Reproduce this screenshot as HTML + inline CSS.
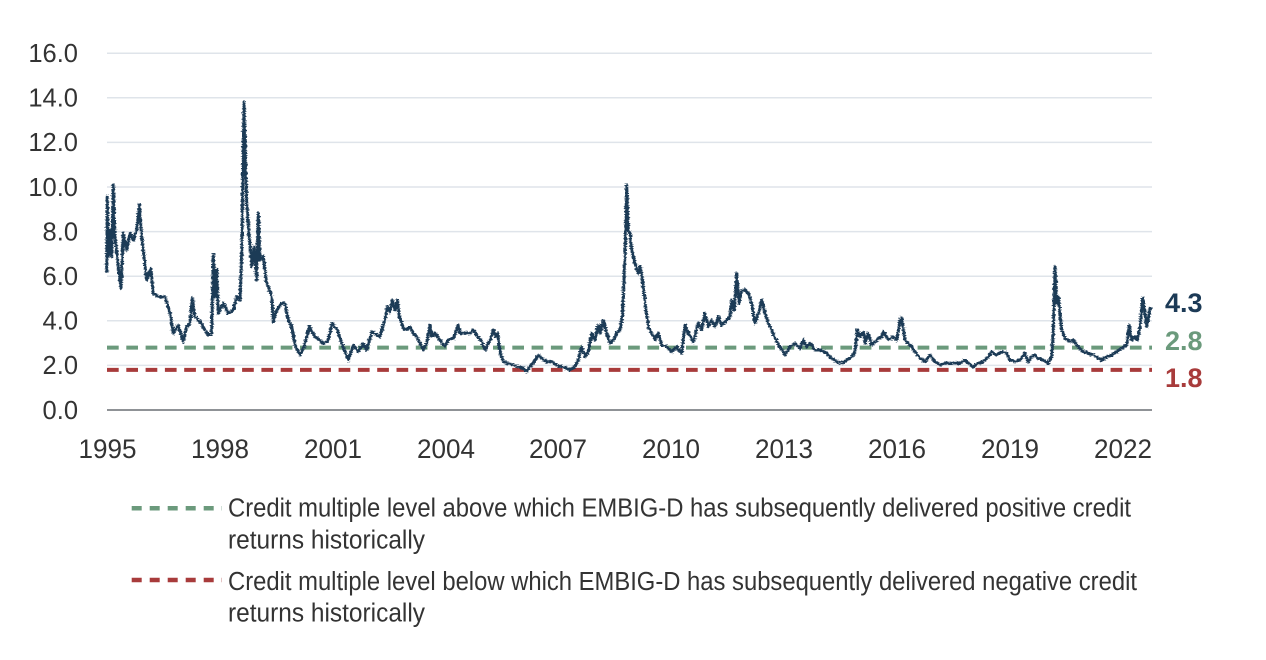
<!DOCTYPE html>
<html><head><meta charset="utf-8"><style>
html,body{margin:0;padding:0;background:#fff;}
svg{display:block;}
text{font-family:"Liberation Sans",sans-serif;}
</style></head><body>
<svg width="1266" height="660" viewBox="0 0 1266 660" xmlns="http://www.w3.org/2000/svg">
<defs>
<filter id="rough" x="-2%" y="-10%" width="104%" height="120%">
<feTurbulence type="fractalNoise" baseFrequency="0.35 0.9" numOctaves="2" seed="3" result="n"/>
<feDisplacementMap in="SourceGraphic" in2="n" scale="4" xChannelSelector="R" yChannelSelector="G"/>
</filter>
</defs>
<rect width="1266" height="660" fill="#fff"/>
<g stroke="#dfe4ea" stroke-width="1.5">
<line x1="107" y1="53.2" x2="1152" y2="53.2"/>
<line x1="107" y1="97.8" x2="1152" y2="97.8"/>
<line x1="107" y1="142.4" x2="1152" y2="142.4"/>
<line x1="107" y1="187" x2="1152" y2="187"/>
<line x1="107" y1="231.6" x2="1152" y2="231.6"/>
<line x1="107" y1="276.2" x2="1152" y2="276.2"/>
<line x1="107" y1="320.8" x2="1152" y2="320.8"/>
<line x1="107" y1="365.4" x2="1152" y2="365.4"/>
</g>
<line x1="107" y1="410" x2="1152" y2="410" stroke="#8f9296" stroke-width="2"/>
<g font-size="25.5" fill="#333" text-anchor="end">
<text x="78" y="62">16.0</text>
<text x="78" y="106.6">14.0</text>
<text x="78" y="151.2">12.0</text>
<text x="78" y="195.8">10.0</text>
<text x="78" y="240.4">8.0</text>
<text x="78" y="285">6.0</text>
<text x="78" y="329.6">4.0</text>
<text x="78" y="374.2">2.0</text>
<text x="78" y="418.8">0.0</text>
</g>
<g font-size="27" fill="#333" text-anchor="middle">
<text x="107.5" y="458" textLength="58" lengthAdjust="spacingAndGlyphs">1995</text>
<text x="220" y="458" textLength="58" lengthAdjust="spacingAndGlyphs">1998</text>
<text x="333" y="458" textLength="58" lengthAdjust="spacingAndGlyphs">2001</text>
<text x="446" y="458" textLength="58" lengthAdjust="spacingAndGlyphs">2004</text>
<text x="558" y="458" textLength="58" lengthAdjust="spacingAndGlyphs">2007</text>
<text x="671" y="458" textLength="58" lengthAdjust="spacingAndGlyphs">2010</text>
<text x="784" y="458" textLength="58" lengthAdjust="spacingAndGlyphs">2013</text>
<text x="897" y="458" textLength="58" lengthAdjust="spacingAndGlyphs">2016</text>
<text x="1010" y="458" textLength="58" lengthAdjust="spacingAndGlyphs">2019</text>
<text x="1123" y="458" textLength="58" lengthAdjust="spacingAndGlyphs">2022</text>
</g>
<line x1="107" y1="347.6" x2="1152" y2="347.6" stroke="#6b9a7c" stroke-width="4" stroke-dasharray="11.7 7.6"/>
<line x1="107" y1="369.9" x2="1152" y2="369.9" stroke="#a83b3b" stroke-width="4" stroke-dasharray="11.7 7.6"/>
<g filter="url(#rough)">
<polyline fill="none" stroke="#1c3a56" stroke-width="3" stroke-linejoin="round" points="
106.7,273 107.3,196.7 108.3,256.7 110,230 111.7,256.7 113.3,185 115,236.7 118.3,266.7 121,288.3 123.3,233 126.7,250 130,233 133.3,240 136.7,230 139.3,205 141.7,236.7 146.7,280 150.7,268.3 153.3,293.3 158.3,296.7 165,296.7 170,313.3 173.3,333.3 178.3,325 183.3,341.7 186.7,326.7 190,323.3 192.3,298.3 195,316.7 200,321.7 205,330 208.3,335 211.7,333.3 213.3,255 215,296.7 216.7,270 218.3,313.3 223.3,303.3 228.3,313.3 233.3,310 236.7,296.7 240,300 241.7,253.3 244,102.7 246.7,203.3 249.3,236.7 251.7,266.7 254,246.7 256.7,280 258.3,213.3 260,260 263.3,256.7 266.7,283.3 271.7,296.7 273.3,321.7 276.7,310 281.7,303.3 285,303.3 288.3,320 291.7,326.7 295,345 300,355 304,346.7 309.3,326.7 315,336.7 323.3,343.3 327.7,341.7 332.3,323.3 337.3,330 341.7,343.3 348.3,360 353.3,345 358.3,351.7 363.3,343.3 366.7,350 371.7,331.7 380,336.7
381.7,330 385,320 387.3,306.7 390,311.7 392.3,300 395,310 397.3,300 399.3,316.7 403.3,328.3 406.7,330 410,326.7 413.3,333.3 416.7,336.7 420,343.3 423.3,350 426.7,343.3 430,325 431.7,336.7 435,333.3 440,340 445,346.7 448.3,340 453.3,338.3 458.3,325 460,333.3 465,333.3 470,333.3 473.3,330 476.7,335 481.7,341.7 485,350 490,340 493.3,330 496,336.7 497.7,333.3 500,351.7 503.3,361.7 508.3,363.3 513.3,365 518.3,366.7 523.3,368.3 526.7,371.7 530,366.7 535,360 538.3,355 541.7,358.3 546.7,361.7 551.7,361.7 556.7,365 561.7,366.7 566.7,368.3 570,370 575,366.7 578.3,360 581.7,346.7 585,356.7 588.3,351.7 591.7,333.3 595,340 598.3,325 600,333.3 603.3,320 606.7,333.3 610,343.3 613.3,340 616.7,333.3 620,330 622.7,313.3 625,253.3 626.7,185 628.3,230 630,233.3 631.7,250 635,263.3 638.3,273.3
640,266.7 641.7,273.3 645,303.3 648.3,326.7 651.7,333.3 655,340 658.3,333.3 661.7,345 666.7,346.7 671.7,351.7 676.7,346.7 681.7,353.3 685,325 688.3,333.3 693.3,341.7 698.3,323.3 701.7,330 705,313.3 708.3,326.7 711.7,320 715,326.7 718.3,316.7 721.7,325 726.7,320 730,316.7 731.7,300 734.3,310 736.7,273.3 739,303.3 741.7,290 745,290 748.3,293.3 751.7,303.3 755,323.3 758.3,313.3 761.7,300 765,313.3 768.3,323.3 771.7,330 775,338.3 780,346.7 785,355 790,346.7 795,343.3 800,348.3 803.3,340 806.7,346.7 810,343.3 815,350 820,350 826.7,353.3 831.7,358.3 836.7,361.7 841.7,363.3 846.7,360 851.7,356.7 855,351.7 857.3,330 860,336.7 863.3,331.7 865,343.3 868.3,333.3 871.7,345 876.7,340 881.7,336.7 883.3,331.7 888.3,340 893.3,336.7 896.7,340 900.7,318.3
901.7,318.3 905,340 910,345 915,351.7 920,358.3 925,361.7 930,355 935,361.7 940,365 945,363.3 950,363.3 955,362.7 960,363.3 965,360 968.3,363.3 973.3,366.7 978.3,363.3 983.3,361.7 988.3,356.7 991.7,351.7 996.7,355 1001.7,351.7 1006.7,353.3 1010,360 1015,361.7 1020,360 1025,353.3 1028.3,361.7 1031.7,356.7 1035,355 1038.3,358.3 1043.3,360 1048.3,363.3 1051.7,356.7 1053.3,330 1055,266.7 1056.7,303.3 1058.3,296.7 1060,313.3 1061.7,330 1065,338.3 1070,341.7 1073.3,340 1078.3,346.7 1083.3,351.7 1088.3,353.3 1093.3,355 1098.3,358.3 1101.7,360 1106.7,356.7 1111.7,355 1116.7,351.7 1121.7,348.3 1126.7,345 1129.3,325 1131.7,340 1135,336.7 1137.3,340 1140,326.7 1142.7,298.3 1145,313.3 1146.7,326.7 1148.3,318.3 1150,308.3 1150.7,310"/>
</g>
<g font-size="27" font-weight="bold">
<text x="1165" y="312" fill="#1c3a56">4.3</text>
<text x="1165" y="350" fill="#6b9a7c">2.8</text>
<text x="1165" y="387" fill="#a83b3b">1.8</text>
</g>
<line x1="131.7" y1="508.3" x2="222" y2="508.3" stroke="#6b9a7c" stroke-width="4.5" stroke-dasharray="10 8"/>
<line x1="131.7" y1="580" x2="222" y2="580" stroke="#a83b3b" stroke-width="4.5" stroke-dasharray="10 8"/>
<g font-size="25.5" fill="#333">
<text x="228" y="516.7" textLength="903" lengthAdjust="spacingAndGlyphs">Credit multiple level above which EMBIG-D has subsequently delivered positive credit</text>
<text x="228" y="548.3" textLength="197" lengthAdjust="spacingAndGlyphs">returns historically</text>
<text x="228" y="590" textLength="909" lengthAdjust="spacingAndGlyphs">Credit multiple level below which EMBIG-D has subsequently delivered negative credit</text>
<text x="228" y="621.7" textLength="197" lengthAdjust="spacingAndGlyphs">returns historically</text>
</g>
</svg>
</body></html>
